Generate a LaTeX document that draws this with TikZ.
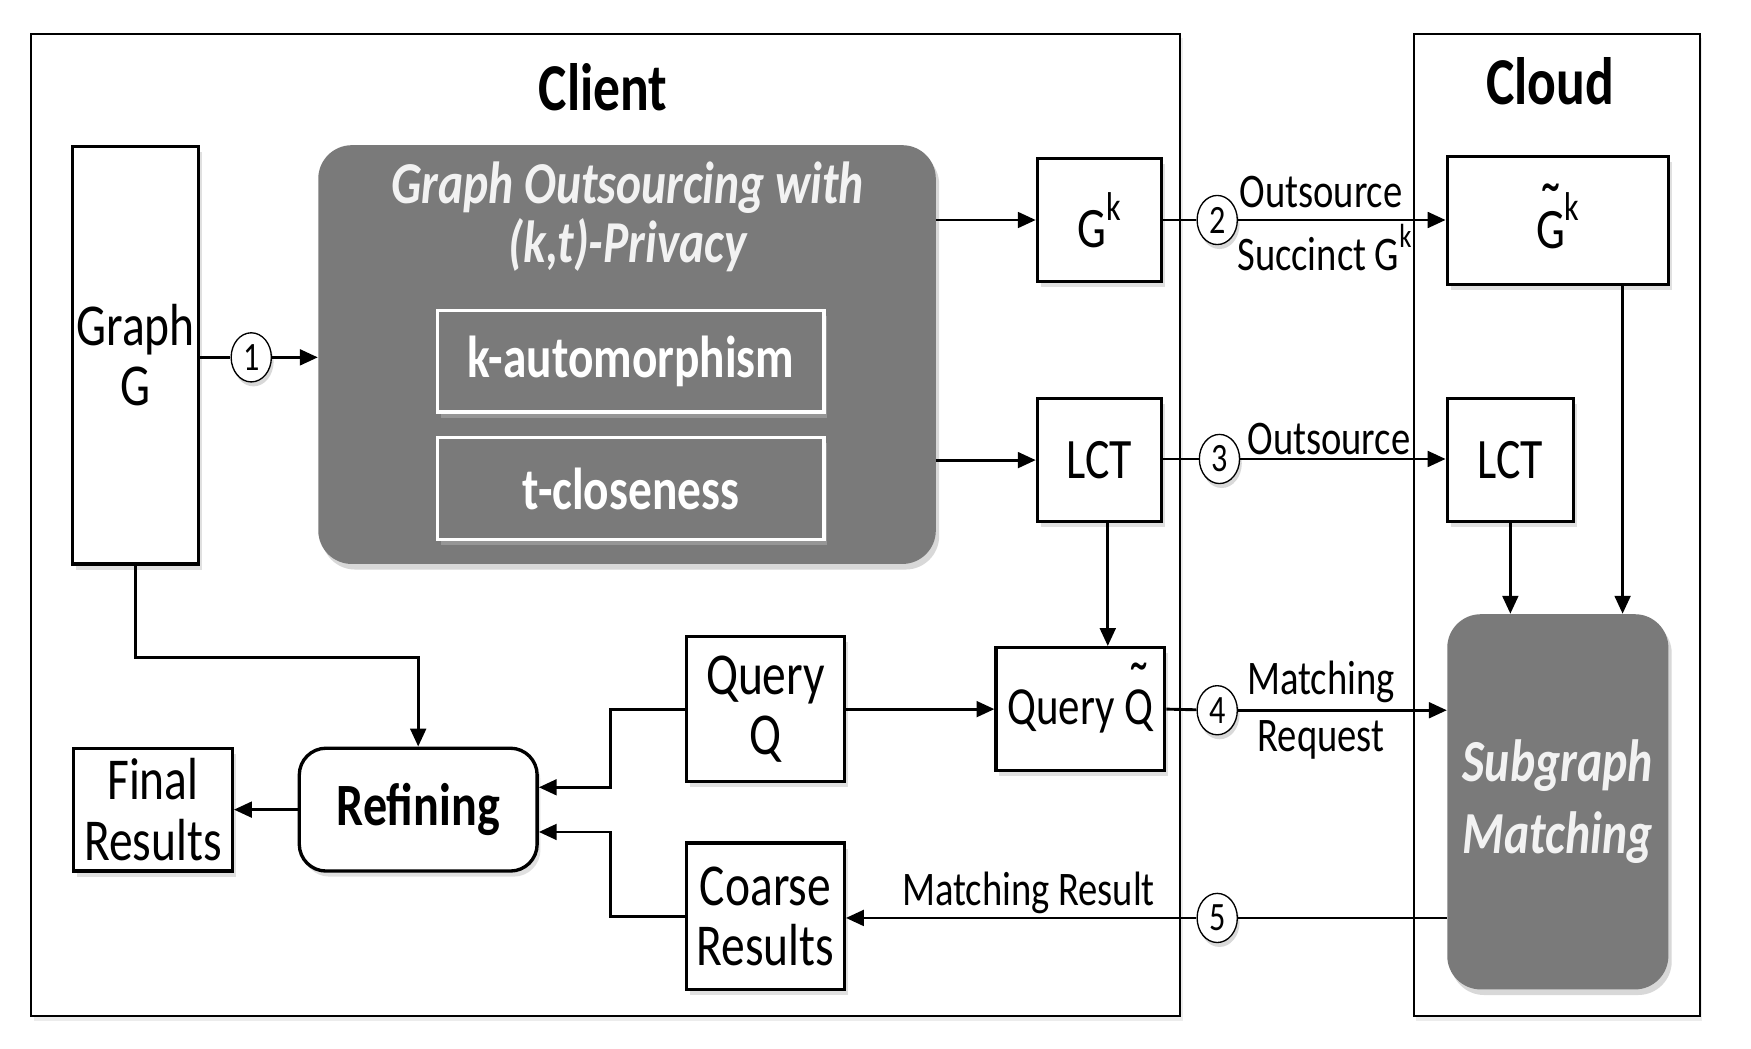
\documentclass[tikz,border=0pt]{standalone}
\usepackage{fontspec}
\setmainfont{Carlito}[FakeStretch=0.8]
\usetikzlibrary{arrows.meta,shapes.geometric,shadows,calc}
\definecolor{boxgray}{HTML}{7A7A7A}
\newcommand\tildeG[1]{\ooalign{#1\cr\hidewidth\raisebox{0.55ex}{\scalebox{1.3}{\char"02DC}}\hidewidth\cr}}
\newcommand\supk[1]{\raisebox{1.0ex}{\fontsize{#1}{#1}\selectfont k}}
\tikzset{
  box/.style={draw=black,line width=1.5pt,fill=white,minimum width=#1,align=center,inner sep=0pt,
    drop shadow={shadow xshift=1.5pt,shadow yshift=-2.5pt,fill=black!20,opacity=0.6}},
  graybox/.style={fill=boxgray,rounded corners=15pt,inner sep=0pt,
    drop shadow={shadow xshift=1.5pt,shadow yshift=-2.5pt,fill=black!25,opacity=0.6}},
  innerbox/.style={draw=white,line width=1.5pt,fill=boxgray,inner sep=0pt,text=white,font=\fontsize{26.5}{30}\selectfont\bfseries,
    drop shadow={shadow xshift=1.5pt,shadow yshift=-2.5pt,fill=black!30,opacity=0.5}},
  frame/.style={draw=black,line width=0.9pt,fill=white,drop shadow={shadow xshift=1pt,shadow yshift=-2pt,fill=black!15}},
  num/.style={ellipse,draw=black,line width=0.6pt,fill=white,minimum width=18pt,minimum height=22pt,inner sep=0pt,
    font=\fontsize{18}{19}\selectfont,
    drop shadow={shadow xshift=1pt,shadow yshift=-2pt,fill=black!25,opacity=0.6}},
  conn/.style={line width=1.3pt},
  arr/.style={line width=1.3pt,-{Triangle[length=8pt,width=7pt]}},
  lbl/.style={font=\fontsize{21.6}{24}\selectfont,inner sep=0pt},
  boxtxt/.style={font=\fontsize{26.6}{27}\selectfont},
}
\begin{document}
\begin{tikzpicture}[x=0.5pt,y=-0.5pt]
\useasboundingbox (0,0) rectangle (1568,939);
% frames
\draw[frame] (28,30) rectangle (1057,910);
\draw[frame] (1266,30) rectangle (1522,910);
\node[font=\fontsize{30}{32}\selectfont\bfseries] (client) at (540,78) {Client};
\node[font=\fontsize{30}{32}\selectfont\bfseries] (cloud) at (1388,73) {Cloud};
% boxes
\node[box=56.5pt,minimum height=187pt,boxtxt] (graphG) at (121.5,318) {Graph\\G};
\node[graybox,minimum width=276.5pt,minimum height=187.5pt] (big) at (561.5,317.5) {};
\node[text=white!95!black,font=\fontsize{26.6}{26.5}\selectfont\bfseries\itshape,align=center] (bigtitle) at (562,194) {Graph Outsourcing with\\(k,t)-Privacy};
\node[innerbox,minimum width=173pt,minimum height=45.5pt] (kaut) at (565,323.5) {k-automorphism};
\node[innerbox,minimum width=173pt,minimum height=45.5pt] (tclose) at (565,437.5) {t-closeness};
\node[box=55.5pt,minimum height=55pt,font=\fontsize{25.6}{27}\selectfont] (Gk) at (984.5,197) {\raisebox{-0.4ex}{G\supk{18}}};
\node[box=55.5pt,minimum height=55pt,font=\fontsize{25.6}{27}\selectfont] (LCTc) at (984.5,412) {LCT};
\node[box=99pt,minimum height=57.5pt,font=\fontsize{25.6}{27}\selectfont] (Gtk) at (1395,197.5) {\raisebox{-0.6ex}{\tildeG{G}\supk{18}}};
\node[box=56.5pt,minimum height=55pt,font=\fontsize{25.6}{27}\selectfont] (LCTs) at (1352.5,412) {LCT};
\node[graybox,minimum width=99pt,minimum height=168pt,text=white!95!black,align=center,font=\fontsize{26.7}{32}\selectfont\bfseries\itshape] (SM) at (1395,718) {Subgraph\\Matching};
\node[box=75.5pt,minimum height=55pt,font=\fontsize{24}{26}\selectfont] (QtQ) at (967.5,635) {\raisebox{-1.5ex}{Query \tildeG{Q}}};
\node[box=70.5pt,minimum height=65pt,boxtxt] (QQ) at (685.5,635) {Query\\Q};
\node[box=106.5pt,minimum height=55pt,rounded corners=12pt,font=\fontsize{26.9}{27}\selectfont\bfseries] (Ref) at (374.5,725) {Refining};
\node[box=70.5pt,minimum height=65.5pt,boxtxt] (Coarse) at (685.5,820.5) {Coarse\\Results};
\node[box=71pt,minimum height=55pt,boxtxt] (Final) at (137,725) {Final\\Results};
% numbered circles
\node[num] (c1) at (225,320) {1};
\node[num] (c2) at (1090,197) {2};
\node[num] (c3) at (1092,411) {3};
\node[num] (c4) at (1090,636) {4};
\node[num] (c5) at (1090,822) {5};
% connectors
\draw[conn] (c1 -| graphG.east) -- (c1);
\draw[arr] (c1) -- (c1 -| big.west);
\draw[arr] (Gk.west -| big.east) -- (Gk.west);
\draw[arr] (LCTc.west -| big.east) -- (LCTc.west);
\draw[conn] (Gk.east) -- (c2);
\draw[arr] (c2) -- (c2 -| Gtk.west);
\draw[conn] (c3 -| LCTc.east) -- (c3);
\draw[arr] (c3) -- (c3 -| LCTs.west);
\draw[arr] ([xshift=3.75pt]LCTc.south) -- ([xshift=3.75pt]LCTc.south |- QtQ.north);
\draw[arr] (LCTs.south) -- (LCTs.south |- SM.north);
\draw[arr] ([xshift=29pt]Gtk.south) -- ([xshift=29pt]Gtk.south |- SM.north);
\draw[arr] (QQ.east) -- (QtQ.west);
\draw[conn] (QtQ.east) -- (c4);
\draw[arr] (c4) -- (c4 -| SM.west);
\draw[conn] (c5 -| SM.west) -- (c5);
\draw[arr] (c5) -- (c5 -| Coarse.east);
\draw[arr] (graphG.south) -- ++(0,82) -| (Ref.north);
\draw[arr] (QQ.west) -- ++(-67,0) |- ([yshift=10pt]Ref.east);
\draw[arr] (Coarse.west) -- ++(-67,0) |- ([yshift=-10pt]Ref.east);
\draw[arr] (Ref.west) -- (Final.east);
% labels
\node[lbl] (l2a) at (1183,172) {Outsource};
\node[lbl] (l2b) at (1186,222) {Succinct G\supk{15}};
\node[lbl] (l3) at (1190,393) {Outsource};
\node[lbl] (l4a) at (1183,611) {Matching};
\node[lbl] (l4b) at (1183,663) {Request};
\node[lbl] (l5) at (921,800) {Matching Result};
\end{tikzpicture}
\end{document}
